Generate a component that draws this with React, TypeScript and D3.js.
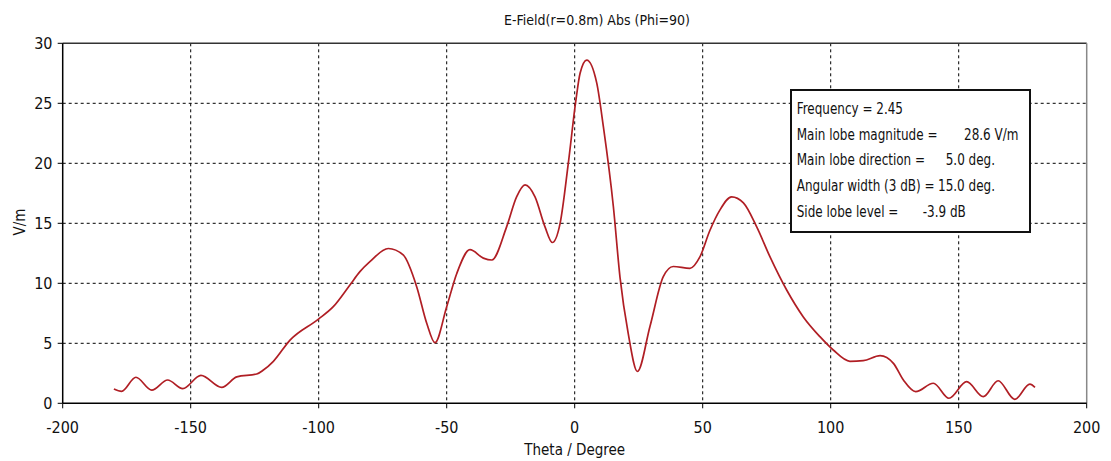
import React from "react";
import * as d3 from "d3";

const thetaValues = [-180, -177, -171.4, -165.2, -159, -153.1, -146, -137.9, -132, -124.2, -121.6, -117.7, -111.2, -100.2, -94.3, -87.8, -83.9, -80, -72.8, -67, -61.7, -57.8, -54.6, -50, -46.1, -40.9, -35.7, -32.4, -26.6, -22.7, -19.4, -15.5, -11.6, -8.75, -5.7, -2.5, 0.5, 2.1, 4.7, 8.6, 11.2, 15.1, 17.7, 20.9, 24.5, 29.4, 34.6, 38.5, 45, 48.9, 52.8, 56.7, 61.3, 65.9, 71.1, 76.3, 82.8, 89.3, 95.8, 101, 107.5, 112.7, 119.3, 124.5, 128.4, 133.2, 140.1, 146.2, 153.1, 159.6, 165.4, 171.9, 177.8, 179.8];
const eFieldValues = [1.2, 1.0, 2.17, 1.1, 1.94, 1.22, 2.33, 1.33, 2.2, 2.44, 2.77, 3.5, 5.27, 7.0, 8.05, 9.86, 10.97, 11.8, 12.9, 12.36, 9.7, 6.67, 5.05, 8.05, 10.8, 12.8, 12.1, 11.94, 14.7, 17.2, 18.2, 17.2, 14.7, 13.4, 15.0, 20.0, 25.3, 27.5, 28.6, 26.7, 23.05, 16.4, 10.5, 5.83, 2.65, 6.4, 10.55, 11.4, 11.25, 12.2, 14.4, 16.1, 17.2, 16.7, 14.7, 12.2, 9.44, 7.2, 5.55, 4.44, 3.5, 3.55, 3.97, 3.33, 1.94, 0.97, 1.67, 0.42, 1.8, 0.55, 1.88, 0.33, 1.6, 1.33];

const xTicks = [-200, -150, -100, -50, 0, 50, 100, 150, 200];
const yTicks = [0, 5, 10, 15, 20, 25, 30];

const titleText = "E-Field(r=0.8m) Abs (Phi=90)";
const xLabel = "Theta / Degree";
const yLabel = "V/m";
const legendLabels = ["Frequency = 2.45", "Main lobe magnitude =", "Main lobe direction =", "Angular width (3 dB) =", "Side lobe level ="];
const legendValues = ["", "28.6 V/m", "5.0 deg.", "15.0 deg.", "-3.9 dB"];

const FONT = "'Liberation Sans Narrow', 'DejaVu Sans Condensed', 'Liberation Sans', sans-serif";

export default function App() {
  const W = 1111, H = 461;
  const left = 62.7, right = 1086.7, top = 43.3, bottom = 403.3;
  const x = d3.scaleLinear().domain([-200, 200]).range([left, right]);
  const y = d3.scaleLinear().domain([0, 30]).range([bottom, top]);
  const pts = thetaValues.map((t, i) => [t, eFieldValues[i]] as [number, number]);
  const line = d3.line<[number, number]>().x(d => x(d[0])).y(d => y(d[1])).curve(d3.curveMonotoneX);

  const legendX = 791, legendY = 90, legendW = 239, legendH = 142;
  const valueX = [0, 964, 945.7, 938, 922.7];
  const sx = 0.89;

  return (
    <svg width={W} height={H} style={{ position: "absolute", left: 0, top: 0, background: "#fff" }} fontFamily={FONT}>
      <rect x={0} y={0} width={W} height={H} fill="#fff" />
      {xTicks.filter(t => t > -200 && t < 200).map(t => (
        <line key={"gx" + t} x1={x(t)} x2={x(t)} y1={top} y2={bottom} stroke="#000" strokeWidth={1} strokeDasharray="3,3" />
      ))}
      {yTicks.filter(t => t > 0 && t < 30).map(t => (
        <line key={"gy" + t} x1={left} x2={right} y1={y(t)} y2={y(t)} stroke="#000" strokeWidth={1} strokeDasharray="3,3" />
      ))}
      <line x1={left} x2={right} y1={top} y2={top} stroke="#333" strokeWidth={1.5} />
      <line x1={right} x2={right} y1={top} y2={bottom} stroke="#888" strokeWidth={1.5} />
      <line x1={left} x2={left} y1={top} y2={bottom} stroke="#000" strokeWidth={1.5} />
      <line x1={left} x2={right} y1={bottom} y2={bottom} stroke="#000" strokeWidth={1.5} />
      {xTicks.map(t => (
        <g key={"tx" + t}>
          <line x1={x(t)} x2={x(t)} y1={bottom} y2={bottom + 5} stroke="#000" strokeWidth={1} />
          <text x={x(t)} y={427} textAnchor="middle" dominantBaseline="central" fontSize={16} fill="#111">{t}</text>
        </g>
      ))}
      {yTicks.map(t => (
        <g key={"ty" + t}>
          <line x1={left - 5} x2={left} y1={y(t)} y2={y(t)} stroke="#000" strokeWidth={1} />
          <text x={52.5} y={y(t)} textAnchor="end" dominantBaseline="central" fontSize={16} fill="#111">{t}</text>
        </g>
      ))}
      <path d={line(pts) || ""} fill="none" stroke="#b01e24" strokeWidth={1.7} strokeLinejoin="round" />
      <text x={597} y={20} textAnchor="middle" dominantBaseline="central" fontSize={14} fill="#111">{titleText}</text>
      <text x={574.7} y={450} textAnchor="middle" dominantBaseline="central" fontSize={15} fill="#111">{xLabel}</text>
      <text transform={`translate(20,222) rotate(-90)`} textAnchor="middle" dominantBaseline="central" fontSize={15} fill="#111">{yLabel}</text>
      <rect x={legendX} y={legendY} width={legendW} height={legendH} fill="#fff" stroke="#111" strokeWidth={2} />
      {legendLabels.map((l, i) => (
        <g key={"lg" + i}>
          <text transform={`translate(796.7,${109 + i * 25.6}) scale(${sx},1)`} dominantBaseline="central" fontSize={15} fill="#111">{l}</text>
          {legendValues[i] && (
            <text transform={`translate(${valueX[i]},${109 + i * 25.6}) scale(${sx},1)`} dominantBaseline="central" fontSize={15} fill="#111">{legendValues[i]}</text>
          )}
        </g>
      ))}
    </svg>
  );
}
